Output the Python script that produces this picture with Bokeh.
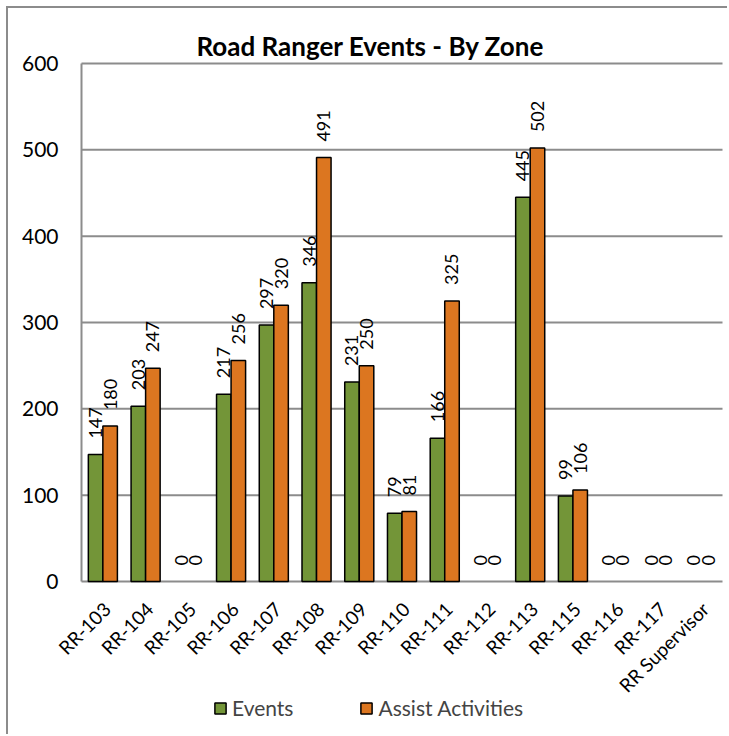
import math
from bokeh.plotting import figure
from bokeh.models import (ColumnDataSource, Range1d, Legend, LegendItem, LabelSet, Label)
from bokeh.core.properties import value
from bokeh.transform import dodge
from bokeh.embed import file_html
from bokeh.resources import INLINE

zones = ["RR-103", "RR-104", "RR-105", "RR-106", "RR-107", "RR-108", "RR-109",
         "RR-110", "RR-111", "RR-112", "RR-113", "RR-115", "RR-116", "RR-117",
         "RR Supervisor"]
events = [147, 203, 0, 217, 297, 346, 231, 79, 166, 0, 445, 99, 0, 0, 0]
assists = [180, 247, 0, 256, 320, 491, 250, 81, 325, 0, 502, 106, 0, 0, 0]
y_ticks = [0, 100, 200, 300, 400, 500, 600]
title_text = "Road Ranger Events - By Zone"
series_names = ["Events", "Assist Activities"]

FONT = "Lato"
GREEN = "#739538"
ORANGE = "#dc7620"
GRID = "#8c8c8c"

# ---- layout (pixels inside the 721 x 728 canvas) ----
CANVAS_W, CANVAS_H = 721, 728
PLOT_L, PLOT_R = 73, 714     # plot-area left / right edge
Y0_PX, Y600_PX = 573, 55     # value 0 / value 600, from canvas top
n = len(zones)
cat_px = (PLOT_R - PLOT_L) / n
x_start = -0.5 - PLOT_L / cat_px
x_end = n - 0.5 + (CANVAS_W - PLOT_R) / cat_px
k = (Y0_PX - Y600_PX) / (y_ticks[-1] - y_ticks[0])
y_start = y_ticks[0] - (CANVAS_H - Y0_PX) / k
y_end = y_ticks[-1] + Y600_PX / k

xi = list(range(n))
src = ColumnDataSource(dict(
    xi=xi,
    zone=zones,
    events=events,
    assists=assists,
    ev_lbl=[str(v) for v in events],
    as_lbl=[str(v) for v in assists],
    ev_line=[0.0 if v == 0 else 1.0 for v in events],
    as_line=[0.0 if v == 0 else 1.0 for v in assists],
    base=[y_ticks[0]] * n,
))
grid_src = ColumnDataSource(dict(
    y=y_ticks,
    lbl=[str(t) for t in y_ticks],
    x0=[-0.5] * len(y_ticks),
    x1=[n - 0.5] * len(y_ticks),
))

p = figure(x_range=Range1d(x_start, x_end), y_range=Range1d(y_start, y_end),
           width=CANVAS_W, height=CANVAS_H, output_backend="svg",
           toolbar_location=None, x_axis_location=None, y_axis_location=None,
           min_border=0)
p.styles = {"border-left": "2px solid #8c8c8c", "border-top": "2px solid #8c8c8c",
            "margin-left": "6px", "margin-top": "6px"}
p.outline_line_color = None
p.background_fill_color = "white"
p.border_fill_color = "white"
p.grid.visible = False

# gridlines and y axis line
p.segment(x0="x0", x1="x1", y0="y", y1="y", source=grid_src,
          line_color=GRID, line_width=2)
p.segment(x0=-0.5, x1=-0.5, y0=y_ticks[0], y1=y_ticks[-1],
          line_color=GRID, line_width=2)

off = 0.17
r_ev = p.vbar(x=dodge("xi", -off), top="events", width=0.34,
              source=src, fill_color=GREEN, line_color="black", line_width=1.5,
              line_alpha="ev_line")
r_as = p.vbar(x=dodge("xi", off), top="assists", width=0.34,
              source=src, fill_color=ORANGE, line_color="black", line_width=1.5,
              line_alpha="as_line")

# data labels
for col, lbl, dx in (("events", "ev_lbl", -off), ("assists", "as_lbl", off)):
    p.add_layout(LabelSet(x=dodge("xi", dx), y=col, text=lbl, source=src,
                          angle=math.pi / 2, text_align="left",
                          text_baseline="middle", y_offset=16,
                          text_font=value(FONT), text_font_size="18px",
                          text_color="black"))

# y tick labels
p.add_layout(LabelSet(x=-0.5, y="y", text="lbl", source=grid_src,
                      x_offset=-23, text_align="right", text_baseline="middle",
                      text_font=value(FONT), text_font_size="21px",
                      text_color="black"))

# category labels (rotated, ending under each category centre)
p.add_layout(LabelSet(x="xi", y="base", text="zone", source=src,
                      angle=math.pi / 4, text_align="right", text_baseline="middle",
                      x_offset=4, y_offset=-24, text_font=value(FONT),
                      text_font_size="19px", text_color="black"))

# title
p.add_layout(Label(x=188, y=CANVAS_H - 37, x_units="screen", y_units="screen",
                   text=title_text, text_font=FONT, text_font_style="bold",
                   text_font_size="26px", text_align="left",
                   text_baseline="alphabetic", text_color="black"))

legend = Legend(items=[LegendItem(label=series_names[0], renderers=[r_ev]),
                       LegendItem(label=series_names[1], renderers=[r_as])],
                orientation="horizontal", location=(205, 16),
                border_line_color=None, background_fill_alpha=0,
                label_text_font=FONT, label_text_font_size="21px",
                glyph_width=14, glyph_height=14, label_standoff=5,
                spacing=66, padding=0, margin=0)
p.add_layout(legend, "center")

open("out.html", "w").write(file_html(p, INLINE))
